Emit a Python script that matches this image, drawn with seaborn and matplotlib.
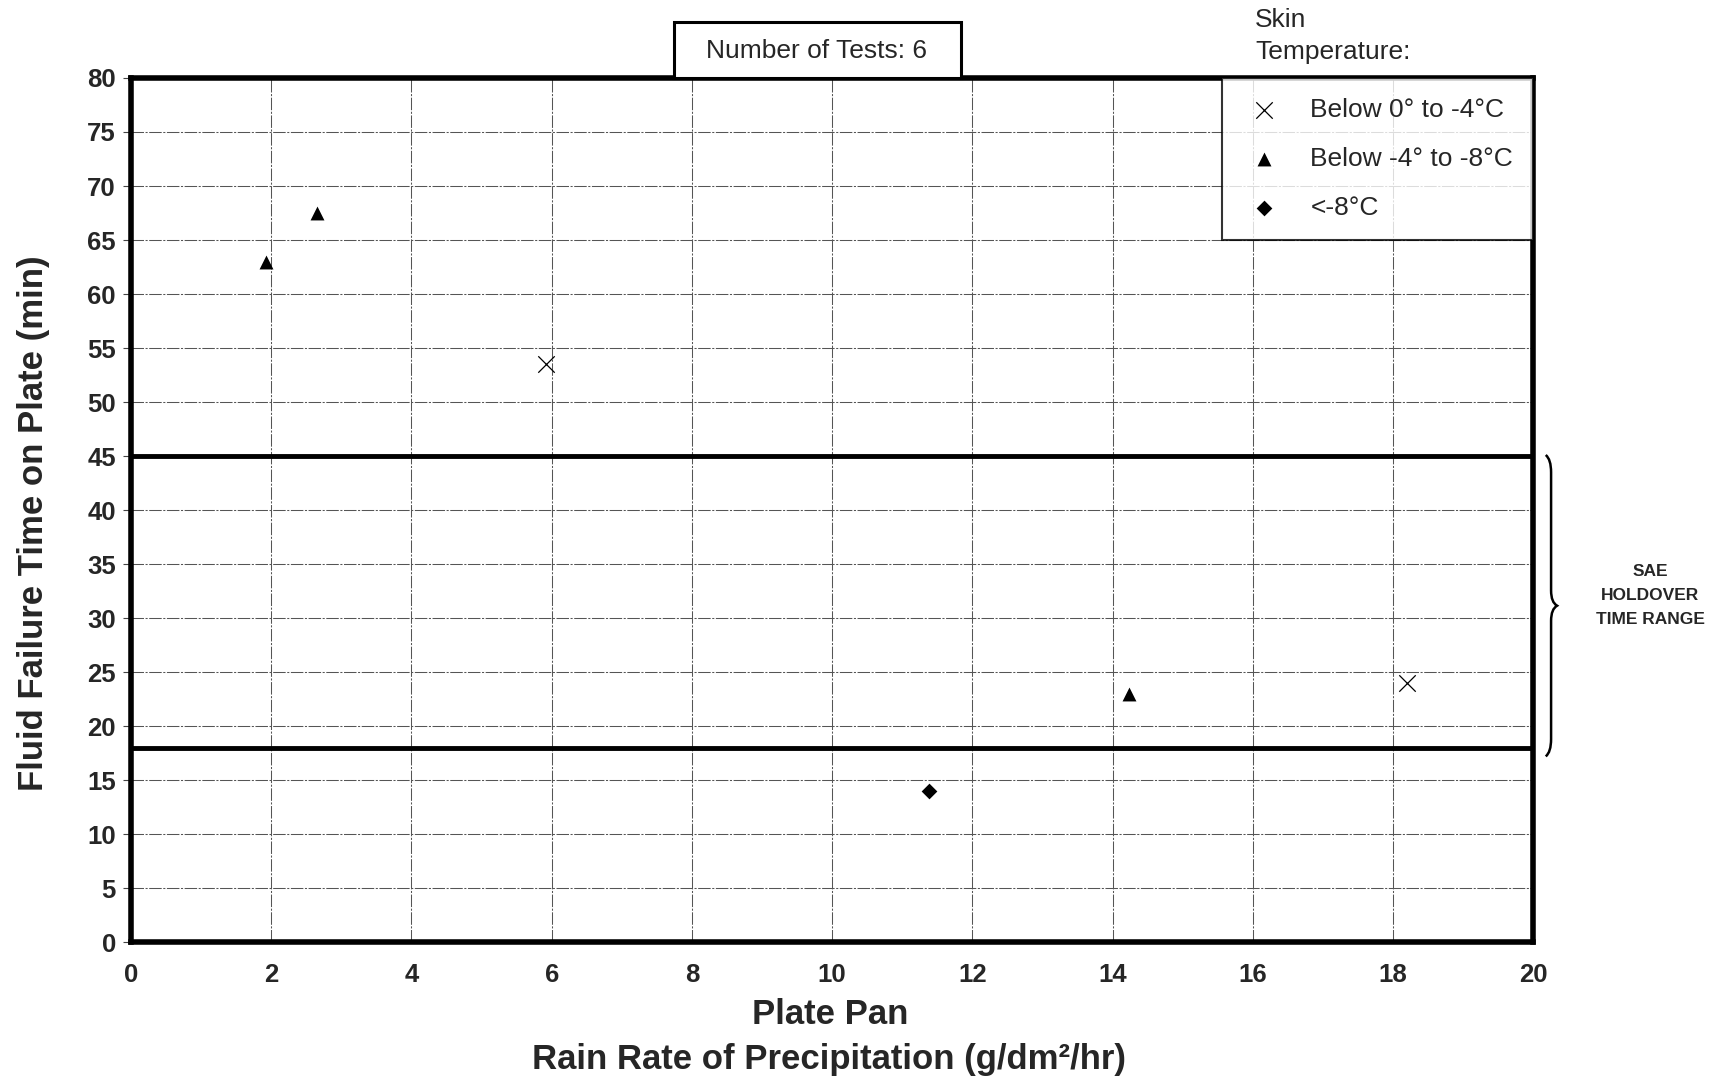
import matplotlib
matplotlib.use("Agg")
import matplotlib.pyplot as plt
from matplotlib.path import Path
from matplotlib.patches import PathPatch, Rectangle
import matplotlib.transforms as mtransforms
import seaborn as sns
import pandas as pd

# Test results: rain rate (g/dm²/hr) vs. fluid failure time (min)
rain_rate = [1.93, 2.65, 5.92, 14.23, 18.2, 11.38]
failure_time = [63.0, 67.5, 53.5, 23.0, 24.0, 14.0]
skin_temp = ["Below -4° to -8°C", "Below -4° to -8°C", "Below 0° to -4°C",
             "Below -4° to -8°C", "Below 0° to -4°C", "<-8°C"]
temp_categories = ["Below 0° to -4°C", "Below -4° to -8°C", "<-8°C"]
sae_range = [18, 45]
x_ticks = list(range(0, 21, 2))
y_ticks = list(range(0, 81, 5))

df = pd.DataFrame({"rate": rain_rate, "time": failure_time, "temp": skin_temp})

sns.set_theme(style="white")
plt.rcParams["font.family"] = ["Liberation Sans", "DejaVu Sans"]

fig = plt.figure(figsize=(17.13, 10.83), dpi=100)
ax = fig.add_axes([0.0765, 0.130, 0.8185, 0.798])

marker_style = {
    "Below 0° to -4°C": dict(marker="x", s=140, linewidth=0.9),
    "Below -4° to -8°C": dict(marker="^", s=100, linewidth=0),
    "<-8°C": dict(marker="D", s=64, linewidth=0),
}
for cat in temp_categories:
    sub = df[df["temp"] == cat]
    sns.scatterplot(data=sub, x="rate", y="time", color="black", ax=ax,
                    label=cat, zorder=5, **marker_style[cat])

ax.set_xlim(0, 20)
ax.set_ylim(0, 80)
ax.set_xticks(x_ticks)
ax.set_yticks(y_ticks)
ax.grid(True, color="#555555", linewidth=0.75, linestyle=(0, (12, 1.5, 2, 1.5)))
ax.set_axisbelow(True)

for spine in ax.spines.values():
    spine.set_linewidth(4)
    spine.set_color("black")
    spine.set_zorder(6)

for yv in sae_range:
    ax.axhline(yv, color="black", linewidth=3.5, zorder=4)

ax.tick_params(axis="y", length=6, width=0.8, color="#444444", pad=5,
               labelsize=18.5, left=True)
ax.tick_params(axis="x", length=0, pad=15, labelsize=18.5)
for lab in ax.get_xticklabels() + ax.get_yticklabels():
    lab.set_fontweight("bold")

ax.set_ylabel("Fluid Failure Time on Plate (min)", fontsize=25,
              fontweight="bold")
ax.yaxis.set_label_coords(-0.0578, 0.485)
ax.set_xlabel("")
fig.text(830 / 1713, 1 - 1014 / 1083, "Plate Pan", fontsize=25,
         fontweight="bold", ha="center", va="center")
fig.text(829 / 1713, 1 - 1059 / 1083, "Rain Rate of Precipitation (g/dm²/hr)",
         fontsize=25, fontweight="bold", ha="center", va="center")

# legend box in the upper right corner
handles, labels = ax.get_legend_handles_labels()
leg = ax.legend(handles, labels, loc="upper right", bbox_to_anchor=(1.0, 1.0),
                frameon=True, fancybox=False, fontsize=19, labelspacing=0.94,
                handletextpad=0.9, borderpad=0.76, borderaxespad=0,
                handlelength=1.7, markerscale=1.0)
leg.get_frame().set_edgecolor("black")
leg.get_frame().set_linewidth(1.5)
leg.set_zorder(7)

fig.text(1255 / 1713, 1 - 20 / 1083, "Skin", fontsize=19, ha="left", va="center")
fig.text(1255 / 1713, 1 - 52 / 1083, "Temperature:", fontsize=19, ha="left",
         va="center")

# number-of-tests box sitting on the top spine
fig.patches.append(Rectangle((674 / 1713, 1 - 78 / 1083), 287 / 1713, 56 / 1083,
                             transform=fig.transFigure, facecolor="white",
                             edgecolor="black", linewidth=2.2, zorder=3))
fig.text(817 / 1713, 1 - 51 / 1083, "Number of Tests: 6", fontsize=19,
         ha="center", va="center", zorder=4)

# curly brace marking the SAE holdover time range
trans = mtransforms.blended_transform_factory(ax.transAxes, ax.transData)
x0, xs, xt = 1.0090, 1.0128, 1.0171
top, bot = 45.1, 17.2
mid = (top + bot) / 2
verts = [(x0, top), (xs, top - 0.4), (xs, top - 1.6),
         (xs, mid + 1.4), (xs, mid + 0.3), (xt, mid),
         (xs, mid - 0.3), (xs, mid - 1.4),
         (xs, bot + 1.6), (xs, bot + 0.4), (x0, bot)]
codes = [Path.MOVETO, Path.CURVE3, Path.CURVE3,
         Path.LINETO, Path.CURVE3, Path.CURVE3,
         Path.CURVE3, Path.CURVE3,
         Path.LINETO, Path.CURVE3, Path.CURVE3]
brace = PathPatch(Path(verts, codes), transform=trans, facecolor="none",
                  edgecolor="black", linewidth=1.8, clip_on=False)
ax.add_patch(brace)
fig.text(1650 / 1713, 1 - 595 / 1083, "SAE\nHOLDOVER\nTIME RANGE", fontsize=12.5,
         fontweight="bold", ha="center", va="center", linespacing=1.75)

fig.savefig("out.png", dpi=100, facecolor="white")
